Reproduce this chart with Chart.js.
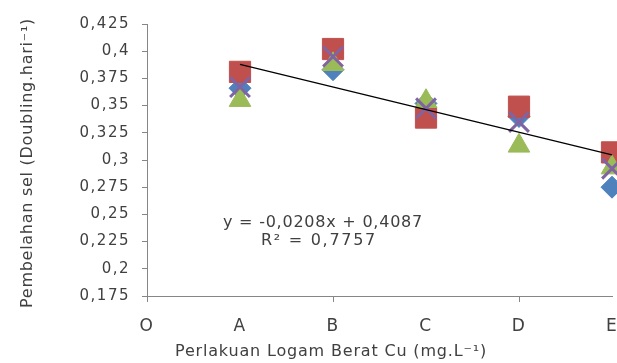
<!DOCTYPE html>
<html>
<head>
<meta charset="utf-8">
<script src="https://cdn.jsdelivr.net/npm/chart.js@4.4.1/dist/chart.umd.min.js"></script>
<style>
  html, body { margin: 0; padding: 0; background: #fff; }
  canvas { display: block; }
</style>
</head>
<body>
<canvas id="chart" width="617" height="363"></canvas>
<script>
// categories on the x axis (O = control, A..E = treatments)
const xTicks = [0, 1, 2, 3, 4, 5];
const xLabels = ['O', 'A', 'B', 'C', 'D', 'E'];
const xPos = [1, 2, 3, 4, 5];

const yTicks = [0.175, 0.2, 0.225, 0.25, 0.275, 0.3, 0.325, 0.35, 0.375, 0.4, 0.425];

// four replicates
const blueVals = [0.366, 0.383, 0.352, 0.340, 0.275];
const redVals = [0.381, 0.402, 0.339, 0.349, 0.307];
const greenVals = [0.355, 0.388, 0.354, 0.313, 0.293];
const purpleVals = [0.367, 0.395, 0.3475, 0.335, 0.292];

// linear trendline shown on the chart
const slope = -0.0208;
const intercept = 0.4087;
const eqLines = ['y = -0,0208x + 0,4087', 'R² = 0,7757'];

const textColor = '#404040';
const axisColor = '#868686';
const fontFam = '"DejaVu Sans", sans-serif';

const pts = vals => vals.map((v, i) => ({ x: xPos[i], y: v }));

function fitText(ctx, txt, x, y, width) {
    ctx.letterSpacing = '0px';
    const w = ctx.measureText(txt).width;
    const ls = (width - w) / txt.length;
    ctx.letterSpacing = ls + 'px';
    ctx.fillText(txt, x, y);
}

const textPlugin = {
    id: 'texts',
    beforeUpdate(chart) {
        chart.ctx.letterSpacing = '1.5px';
    },
    afterDraw(chart) {
        const ctx = chart.ctx;
        ctx.save();
        ctx.fillStyle = textColor;
        ctx.textAlign = 'center';
        ctx.textBaseline = 'middle';
        ctx.font = '16px ' + fontFam;
        fitText(ctx, eqLines[0], 323, 223, 200);
        fitText(ctx, eqLines[1], 319, 241, 116);

        ctx.textBaseline = 'alphabetic';
        fitText(ctx, 'Perlakuan Logam Berat Cu (mg.L⁻¹)', 331, 355.5, 312);

        ctx.translate(31.5, 163);
        ctx.rotate(-Math.PI / 2);
        fitText(ctx, 'Pembelahan sel (Doubling.hari⁻¹)', 0, 0, 290);
        ctx.restore();
    }
};

const marker = (label, vals, color, style, radius, order) => ({
    label: label,
    data: pts(vals),
    backgroundColor: color,
    borderColor: color,
    pointStyle: style,
    pointRadius: radius,
    pointHoverRadius: radius,
    pointBorderWidth: style === 'crossRot' ? 3 : 1,
    order: order,
    clip: false
});

new Chart(document.getElementById('chart'), {
    type: 'scatter',
    data: {
        datasets: [
            marker('Ulangan 1', blueVals, '#4F81BD', 'rectRot', 11, 4),
            marker('Ulangan 2', redVals, '#C0504D', 'rect', 15, 3),
            marker('Ulangan 3', greenVals, '#9BBB59', 'triangle', 12.5, 2),
            marker('Ulangan 4', purpleVals, '#8064A2', 'crossRot', 14, 1),
            {
                type: 'line',
                label: 'Linear',
                data: [xPos[0], xPos[xPos.length - 1]].map(x => ({ x: x, y: slope * x + intercept })),
                borderColor: '#000',
                borderWidth: 1.3,
                pointRadius: 0,
                order: 0,
                clip: false
            }
        ]
    },
    options: {
        responsive: false,
        animation: false,
        events: [],
        layout: { autoPadding: false, padding: { top: 24, right: 5, left: 0, bottom: 0 } },
        plugins: { legend: { display: false }, tooltip: { enabled: false } },
        scales: {
            x: {
                type: 'linear',
                min: 0,
                max: 5,
                afterBuildTicks: s => { s.ticks = xTicks.map(v => ({ value: v })); },
                afterFit: s => { s.height = 67; s.paddingRight = 0; s.paddingLeft = 0; },
                ticks: {
                    callback: v => xLabels[v],
                    color: textColor,
                    font: { family: fontFam, size: 17 },
                    padding: 14,
                    maxRotation: 0,
                    autoSkip: false
                },
                grid: {
                    drawOnChartArea: false,
                    tickLength: 6,
                    tickWidth: 1,
                    tickColor: xTicks.map((v, i) => i % 2 === 0 ? axisColor : 'rgba(0,0,0,0)')
                },
                border: { color: axisColor, width: 1 }
            },
            y: {
                min: 0.175,
                max: 0.425,
                afterBuildTicks: s => { s.ticks = yTicks.map(v => ({ value: v })); },
                afterFit: s => { s.width = 147; s.paddingTop = 0; s.paddingBottom = 0; },
                ticks: {
                    callback: v => String(Number(v.toFixed(3))).replace('.', ','),
                    color: textColor,
                    font: { family: fontFam, size: 15 },
                    padding: 12
                },
                grid: { drawOnChartArea: false, tickLength: 5, tickColor: axisColor },
                border: { color: axisColor, width: 1 }
            }
        }
    },
    plugins: [textPlugin]
});
</script>
</body>
</html>
